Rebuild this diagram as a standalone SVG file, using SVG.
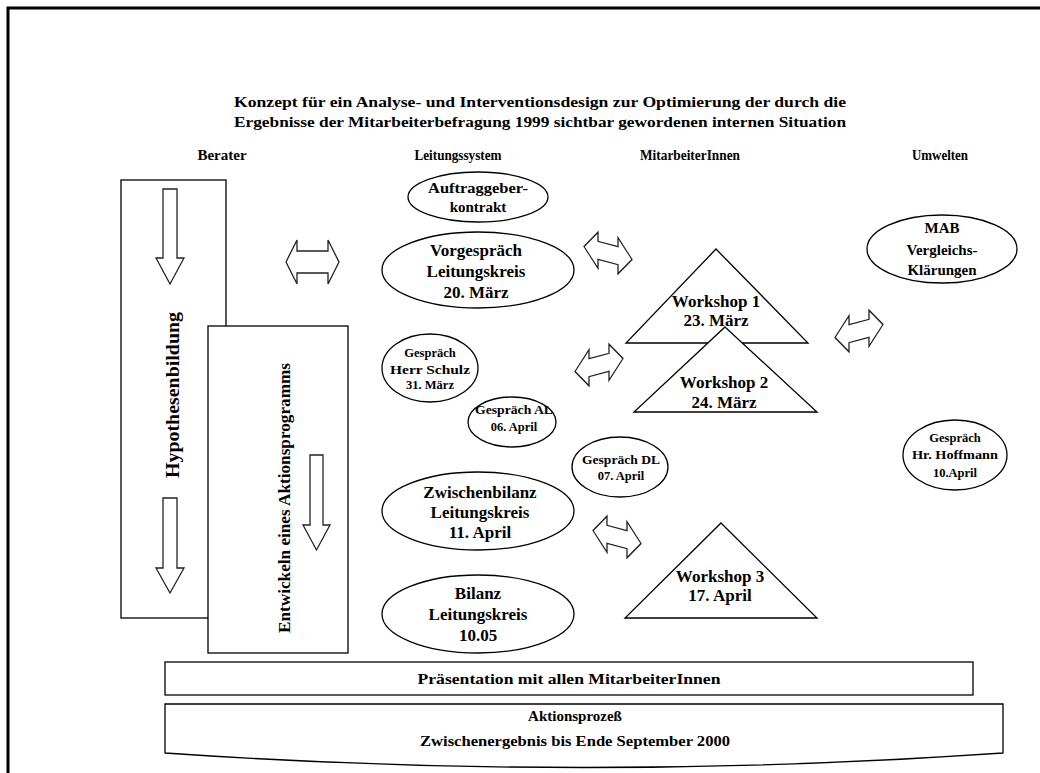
<svg xmlns="http://www.w3.org/2000/svg" xmlns:xlink="http://www.w3.org/1999/xlink" width="1040" height="773" viewBox="0 0 1040 773">
  <style>
    .t { font-family: "Liberation Serif", "Times New Roman", serif; font-weight: bold; fill: #000; text-anchor: middle; }
    .shape { fill: #fff; stroke: #000; stroke-width: 1.3; }
    .arrow { fill: #fff; stroke: #222; stroke-width: 1.3; stroke-linejoin: miter; }
  </style>
  <defs>
    <!-- hollow left-right block arrow, centred on the origin -->
    <path id="dbl" d="M-24,0 L-10,-18 L-10,-9 L10,-9 L10,-18 L24,0 L10,18 L10,9 L-10,9 L-10,18 Z"/>
  </defs>

  <rect width="1040" height="773" fill="#fff"/>
  <!-- page frame -->
  <path d="M8,773 V8 H1040" fill="none" stroke="#000" stroke-width="3"/>

  <!-- title -->
  <g id="title">
    <text class="t" x="540" y="107" font-size="15" textLength="612" lengthAdjust="spacingAndGlyphs">Konzept  für ein Analyse- und Interventionsdesign zur Optimierung der durch die</text>
    <text class="t" x="540" y="127" font-size="15" textLength="612" lengthAdjust="spacingAndGlyphs">Ergebnisse der Mitarbeiterbefragung 1999 sichtbar gewordenen internen Situation</text>
  </g>

  <!-- column headings -->
  <g id="headers">
    <text class="t" x="222" y="160" font-size="15">Berater</text>
    <text class="t" x="458" y="160" font-size="15" textLength="87" lengthAdjust="spacingAndGlyphs">Leitungssystem</text>
    <text class="t" x="690" y="160" font-size="15" textLength="100" lengthAdjust="spacingAndGlyphs">MitarbeiterInnen</text>
    <text class="t" x="940" y="160" font-size="15" textLength="56" lengthAdjust="spacingAndGlyphs">Umwelten</text>
  </g>

  <!-- consultant column -->
  <g id="hypothesenbildung">
    <rect class="shape" x="121" y="180" width="105" height="438"/>
    <path class="arrow" d="M163,189 H177 V258 H184 L170,284 L156,258 H163 Z"/>
    <path class="arrow" d="M163,498 H177 V568 H184 L170,593 L156,568 H163 Z"/>
    <text class="t" transform="translate(179,395) rotate(-90)" font-size="18" textLength="166" lengthAdjust="spacingAndGlyphs">Hypothesenbildung</text>
  </g>

  <g id="aktionsprogramm">
    <rect class="shape" x="208" y="326" width="140" height="327"/>
    <path class="arrow" d="M310,455 H323 V525 H330 L316.5,550 L303,525 H310 Z"/>
    <text class="t" transform="translate(290,498) rotate(-90)" font-size="16" textLength="270" lengthAdjust="spacingAndGlyphs">Entwickeln eines Aktionsprogramms</text>
  </g>

  <!-- management system -->
  <g id="auftraggeberkontrakt">
    <ellipse class="shape" cx="478" cy="197" rx="70" ry="25"/>
    <text class="t" x="478" y="193" font-size="15" textLength="100" lengthAdjust="spacingAndGlyphs">Auftraggeber-</text>
    <text class="t" x="478" y="212" font-size="15">kontrakt</text>
  </g>

  <g id="vorgespraech">
    <ellipse class="shape" cx="478" cy="270" rx="96" ry="38"/>
    <text class="t" x="476" y="256" font-size="17">Vorgespräch</text>
    <text class="t" x="476" y="277" font-size="17">Leitungskreis</text>
    <text class="t" x="476" y="298" font-size="17">20. März</text>
  </g>

  <g id="gespraech-schulz">
    <ellipse class="shape" cx="430" cy="368" rx="48" ry="34"/>
    <text class="t" x="430" y="357" font-size="12.5">Gespräch</text>
    <text class="t" x="430" y="374" font-size="12.5" textLength="80" lengthAdjust="spacingAndGlyphs">Herr Schulz</text>
    <text class="t" x="430" y="389" font-size="12.5">31. März</text>
  </g>

  <g id="gespraech-al">
    <ellipse class="shape" cx="512" cy="422" rx="44" ry="25"/>
    <text class="t" x="514" y="414" font-size="12.5" textLength="78" lengthAdjust="spacingAndGlyphs">Gespräch AL</text>
    <text class="t" x="514" y="431" font-size="12.5">06. April</text>
  </g>

  <g id="gespraech-dl">
    <ellipse class="shape" cx="620" cy="467" rx="48" ry="30"/>
    <text class="t" x="621" y="464" font-size="12.5" textLength="78" lengthAdjust="spacingAndGlyphs">Gespräch DL</text>
    <text class="t" x="621" y="480" font-size="12.5">07. April</text>
  </g>

  <g id="zwischenbilanz">
    <ellipse class="shape" cx="478" cy="511" rx="96" ry="39"/>
    <text class="t" x="480" y="498" font-size="17">Zwischenbilanz</text>
    <text class="t" x="480" y="518" font-size="17">Leitungskreis</text>
    <text class="t" x="480" y="538" font-size="17">11. April</text>
  </g>

  <g id="bilanz">
    <ellipse class="shape" cx="478" cy="614" rx="96" ry="39"/>
    <text class="t" x="478" y="599" font-size="17">Bilanz</text>
    <text class="t" x="478" y="620" font-size="17">Leitungskreis</text>
    <text class="t" x="478" y="641" font-size="17">10.05</text>
  </g>

  <!-- staff workshops -->
  <g id="workshop1">
    <path class="shape" d="M716,249 L808,343 L626,343 Z"/>
    <text class="t" x="716" y="307" font-size="17">Workshop 1</text>
    <text class="t" x="716" y="326" font-size="17">23. März</text>
  </g>

  <g id="workshop2">
    <path class="shape" d="M725,327 L817,412 L634,412 Z"/>
    <text class="t" x="724" y="388" font-size="17">Workshop 2</text>
    <text class="t" x="724" y="408" font-size="17">24. März</text>
  </g>

  <g id="workshop3">
    <path class="shape" d="M721,523 L817,618 L625,618 Z"/>
    <text class="t" x="720" y="582" font-size="17">Workshop 3</text>
    <text class="t" x="720" y="601" font-size="17">17. April</text>
  </g>

  <!-- environment -->
  <g id="mab">
    <ellipse class="shape" cx="942" cy="249" rx="75" ry="34"/>
    <text class="t" x="942" y="233" font-size="15">MAB</text>
    <text class="t" x="942" y="255" font-size="15">Vergleichs-</text>
    <text class="t" x="942" y="275" font-size="15">Klärungen</text>
  </g>

  <g id="gespraech-hoffmann">
    <ellipse class="shape" cx="955" cy="455" rx="52" ry="35"/>
    <text class="t" x="955" y="442" font-size="12.5">Gespräch</text>
    <text class="t" x="955" y="459" font-size="12.5" textLength="86" lengthAdjust="spacingAndGlyphs">Hr. Hoffmann</text>
    <text class="t" x="955" y="477" font-size="12.5">10.April</text>
  </g>

  <!-- two-way exchange arrows -->
  <g id="connectors">
    <path class="arrow" d="M286,262 L297,240 L297,251 L328,251 L328,240 L339,262 L328,284 L328,273 L297,273 L297,284 Z"/>
    <use href="#dbl" xlink:href="#dbl" class="arrow" transform="translate(608,253) skewY(15)"/>
    <use href="#dbl" xlink:href="#dbl" class="arrow" transform="translate(599,365) skewY(-15)"/>
    <use href="#dbl" xlink:href="#dbl" class="arrow" transform="translate(617,537) skewY(15)"/>
    <use href="#dbl" xlink:href="#dbl" class="arrow" transform="translate(859,331) skewY(-15)"/>
  </g>

  <!-- bottom bands -->
  <g id="praesentation">
    <rect class="shape" x="165" y="662" width="808" height="33"/>
    <text class="t" x="569" y="684" font-size="15" textLength="303" lengthAdjust="spacingAndGlyphs">Präsentation mit allen MitarbeiterInnen</text>
  </g>

  <g id="aktionsprozess">
    <path class="shape" d="M165,704 H1003 V753 Q584,782 165,753 Z"/>
    <text class="t" x="575" y="721" font-size="15">Aktionsprozeß</text>
    <text class="t" x="575" y="746" font-size="15" textLength="310" lengthAdjust="spacingAndGlyphs">Zwischenergebnis bis Ende September 2000</text>
  </g>
</svg>
